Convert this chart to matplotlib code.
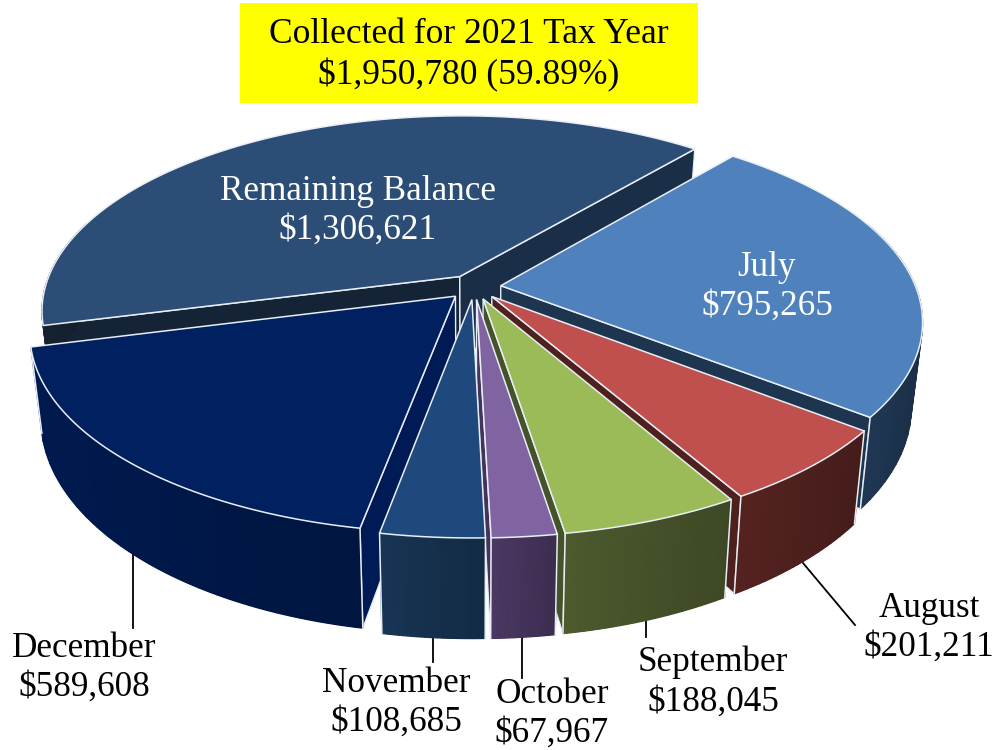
import numpy as np
import matplotlib
matplotlib.use("Agg")
import matplotlib.pyplot as plt
from matplotlib.patches import Polygon, Rectangle

labels = ["July", "August", "September", "October", "November", "December", "Remaining Balance"]
values = [795265, 201211, 188045, 67967, 108685, 589608, 1306621]
top_colors = ["#4F81BD", "#C0504D", "#9BBB59", "#8064A2", "#1F497D", "#002060", "#2C4D75"]
wall_colors = ["#1E3550", "#4E201E", "#46522A", "#44335A", "#15304D", "#001848", "#151F2C"]
cut_colors = ["#1E3550", "#4E201E", "#46522A", "#44335A", "#15304D", "#001A55", "#1A2E47"]
title_lines = ["Collected for 2021 Tax Year", "$1,950,780 (59.89%)"]

plt.rcParams['font.family'] = ['Liberation Serif', 'DejaVu Serif']
fig = plt.figure(figsize=(9.95, 7.5), dpi=100)
ax = fig.add_axes([0, 0, 1, 1])
ax.set_xlim(0, 995); ax.set_ylim(750, 0); ax.axis('off')

CX, CY = 474, 287
R, K, P, H = 415, 192, 0.174, 82
SHRINK = 0.975
EXPLODE = 0.065
START = 40.0
EDGE = '#E8EEF5'

def proj(X, Y, down=0.0):
    s = 1 / (1 - P * np.asarray(Y))
    x = CX + R * np.asarray(X) * s
    if down:
        x = CX + (x - CX) * SHRINK
    return x, CY + K * np.asarray(Y) * s + down * s

def shade(c, f):
    r = np.array(matplotlib.colors.to_rgb(c))
    return tuple(np.clip(r * f, 0, 1))

total = sum(values)
angs = START + np.concatenate([[0], np.cumsum(values)]) / total * 360
wedges = []
for i in range(len(values)):
    a0, a1 = angs[i], angs[i + 1]
    m = np.radians((a0 + a1) / 2)
    ox, oy = EXPLODE * np.sin(m), -EXPLODE * np.cos(m)
    wedges.append((-np.cos(m), i, a0, a1, ox, oy))
wedges.sort()

for n, (_, i, a0, a1, ox, oy) in enumerate(wedges):
    z = 2 + n * 3
    t = np.radians(np.linspace(a0, a1, 240))
    ex, ey = ox + np.sin(t), oy - np.cos(t)
    # cut faces, only those turned towards the viewer
    faces = []
    if -np.sin(t[0]) > 0:
        faces.append((ex[0], ey[0], 0.75 if i == 6 else 1.0))
    if np.sin(t[-1]) > 0:
        faces.append((ex[-1], ey[-1], 1.0))
    for X, Y, f in faces:
        xs = np.array([ox, X]); ys = np.array([oy, Y])
        x0, y0 = proj(xs, ys); x1, y1 = proj(xs, ys, H)
        ax.add_patch(Polygon(np.c_[np.r_[x0, x1[::-1]], np.r_[y0, y1[::-1]]],
                             closed=True, fc=shade(cut_colors[i], f), ec=EDGE, lw=1.0, zorder=z))
    # outer wall: solid body, gradient bands, then edge lines
    vis = ey > -0.35
    if vis.any():
        x0, y0 = proj(ex[vis], ey[vis]); x1, y1 = proj(ex[vis], ey[vis], H)
        outline = np.c_[np.r_[x0, x1[::-1]], np.r_[y0, y1[::-1]]]
        ax.add_patch(Polygon(outline, closed=True, fc=wall_colors[i], ec='none', zorder=z + 1))
        nb = 24
        idx = np.linspace(0, len(x0) - 1, nb + 1).astype(int)
        xmin, xmax = min(x0.min(), x1.min()), max(x0.max(), x1.max())
        for a, b in zip(idx[:-1], idx[1:]):
            xm = (x0[a] + x0[b]) / 2
            f = 1.1 - 0.22 * (xm - xmin) / max(xmax - xmin, 1)
            c = shade(wall_colors[i], f)
            ax.add_patch(Polygon(np.c_[np.r_[x0[a:b + 1], x1[a:b + 1][::-1]], np.r_[y0[a:b + 1], y1[a:b + 1][::-1]]],
                                 closed=True, fc=c, ec=c, lw=0.9, zorder=z + 1))
        if vis[0] and i != 6:
            ax.plot([x0[0], x1[0]], [y0[0], y1[0]], color=EDGE, lw=1.1, zorder=z + 1)
        if vis[-1]:
            ax.plot([x0[-1], x1[-1]], [y0[-1], y1[-1]], color=EDGE, lw=1.1, zorder=z + 1)
    # top
    tx, ty = proj(np.r_[ox, ex], np.r_[oy, ey])
    ax.add_patch(Polygon(np.c_[tx, ty], closed=True, fc=top_colors[i], ec=EDGE, lw=1.1, zorder=z + 2))

ax.add_patch(Rectangle((240, 3), 458, 100, fc='#FFFF00', ec='none', zorder=50))
ax.text(469, 55, "\n".join(title_lines), ha='center', va='center', fontsize=25.5, linespacing=1.26, color='black', zorder=51)

FS = 25.3
LS = 1.25
ax.text(358, 211, "Remaining Balance\n$1,306,621", ha='center', va='center', color='white', fontsize=FS, linespacing=LS, zorder=60)
ax.text(767, 287, "July\n$795,265", ha='center', va='center', color='white', fontsize=FS, linespacing=LS, zorder=60)
ax.text(929, 628, "August\n$201,211", ha='center', va='center', fontsize=FS, linespacing=LS, zorder=60)
ax.text(713, 682, "September\n$188,045", ha='center', va='center', fontsize=FS, linespacing=LS, zorder=60)
ax.text(552, 714, "October\n$67,967", ha='center', va='center', fontsize=FS, linespacing=LS, zorder=60)
ax.text(396, 703, "November\n$108,685", ha='center', va='center', fontsize=FS, linespacing=LS, zorder=60)
ax.text(84, 668, "December\n$589,608", ha='center', va='center', fontsize=FS, linespacing=LS, zorder=60)

for (xa, ya, xb, yb) in [(133, 555, 133, 628), (433, 630, 433, 662), (522, 630, 522, 678),
                         (646, 610, 646, 637), (803, 563, 855, 625)]:
    ax.plot([xa, xb], [ya, yb], color='black', lw=1.3, zorder=1)

fig.savefig("out.png", dpi=100)
